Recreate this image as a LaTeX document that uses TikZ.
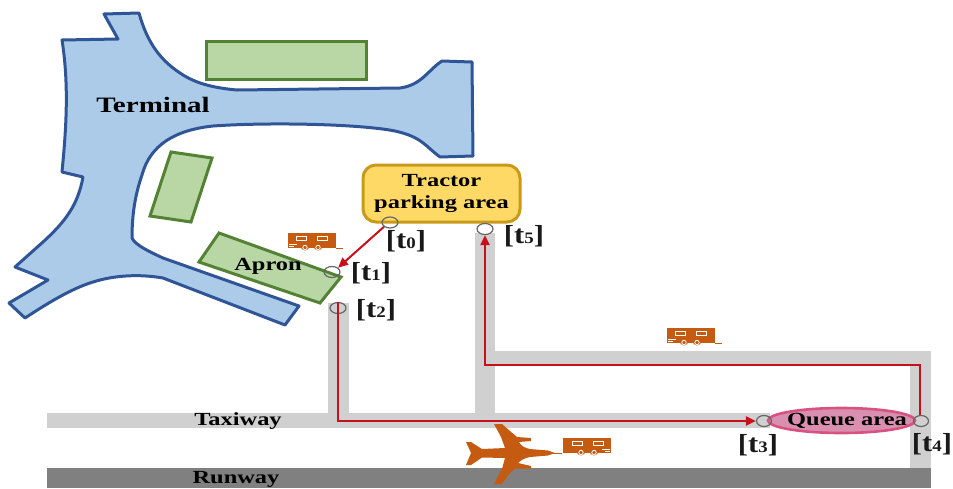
\documentclass[tikz,border=0pt]{standalone}
\usepackage{fontspec}
\usetikzlibrary{arrows.meta,shapes.geometric}
\newfontfamily\lblfont[FakeStretch=1.32]{Liberation Serif Bold}
\newfontfamily\tfont[FakeStretch=1.18]{Liberation Serif Bold}
\definecolor{termfill}{HTML}{ABCBE9}
\definecolor{termline}{HTML}{2F5597}
\definecolor{apfill}{HTML}{B8D7A5}
\definecolor{apline}{HTML}{548235}
\definecolor{roadc}{HTML}{D0D0D0}
\definecolor{runc}{HTML}{808080}
\definecolor{orangec}{HTML}{C55A11}
\definecolor{redc}{HTML}{C8101A}
\definecolor{parkfill}{HTML}{FFD966}
\definecolor{parkline}{HTML}{C99A1A}
\definecolor{qfill}{HTML}{D88FB0}
\definecolor{qline}{HTML}{D9527F}
\newcommand{\lbl}[1]{{\lblfont\fontsize{18.5}{21}\selectfont #1}}
\newcommand{\tl}[1]{{\tfont\fontsize{26}{28}\selectfont[t{\fontsize{16}{17}\selectfont #1}]}}
\tikzset{
  apronbox/.style={draw=apline,fill=apfill,line width=3pt,line join=miter},
  road/.style={fill=roadc,draw=none},
  route/.style={draw=redc,line width=2pt},
  routearrow/.style={route,-{Triangle[length=10pt,width=9pt]}},
  tpoint/.style={ellipse,draw=black!60,line width=1.2pt,minimum width=#1,minimum height=11pt,inner sep=0pt},
  tpoint/.default=15pt,
  tlabel/.style={inner sep=0pt,text=black!90},
  tractorpic/.pic={
    \fill[orangec] (0,0) rectangle (48,15);
    \draw[white,line width=.9pt] (8,3) rectangle (18,7) (29,3) rectangle (39,7);
    \draw[white,line width=.7pt] (1,11) -- (9,11) (1,13) -- (6,13);
    \fill[orangec] (17,13) circle (4.5) (30,13) circle (4.5);
    \draw[white,line width=.8pt] (17,14.5) circle (2.2) (30,14.5) circle (2.2);
  }
}
\begin{document}
\begin{tikzpicture}[x=1pt,y=-1pt]
\useasboundingbox (0,0) rectangle (953,488);
% roads
\fill[road] (47,413) rectangle (770,428);
\fill[road] (328,303) rectangle (349,420);
\fill[road] (475,233) rectangle (495,420);
\fill[road] (475,351) rectangle (931,365);
\fill[road] (910,351) rectangle (931,470);
\fill[runc] (47,468) rectangle (931,488);
% terminal
\draw[draw=termline,fill=termfill,line width=3pt,line join=round]
  (104,14) -- (139,13)
  .. controls (146,38) and (157,58) .. (180,73)
  .. controls (196,84) and (215,88) .. (237,90)
  -- (400,88)
  .. controls (422,85) and (428,70) .. (442,61)
  -- (472,62) -- (473,156) -- (440,157)
  .. controls (425,146) and (422,137) .. (395,131)
  .. controls (360,124) and (270,122) .. (213,126)
  .. controls (175,130) and (150,145) .. (142,175)
  .. controls (135,195) and (132,215) .. (132,238)
  .. controls (135,245) and (150,252) .. (163,258)
  -- (299,306) -- (285,325) -- (163,278)
  .. controls (140,274) and (115,275) .. (93,282)
  .. controls (70,289) and (45,305) .. (25,318)
  -- (9,303) -- (48,280) -- (15,267) -- (43,242)
  .. controls (65,222) and (78,205) .. (83,177)
  -- (62,172)
  .. controls (65,140) and (70,90) .. (62,40)
  -- (118,39) -- cycle;
% aprons
\draw[apronbox] (206,41) rectangle (366,79);
\draw[apronbox] (171,152) -- (212,158) -- (191,222) -- (150,216) -- cycle;
\draw[apronbox] (219,233) -- (341,277) -- (320,303) -- (199,262) -- cycle;
% labels
\node[inner sep=0pt] (terminal) at (153,105) {\lblfont\fontsize{22}{24}\selectfont Terminal};
\node[inner sep=0pt] (apron) at (268,266) {\lbl{Apron}};
\node[inner sep=0pt] (taxiway) at (238,421) {\lbl{Taxiway}};
\node[inner sep=0pt] (runway) at (236,479.5) {\lbl{Runway}};
% parking
\node[draw=parkline,fill=parkfill,line width=3pt,rounded corners=13pt,minimum width=157pt,minimum height=57pt,inner sep=0pt,align=center,font=\lblfont\fontsize{18.5}{22}\selectfont] (park) at (441.5,193.5)
  {Tractor\\parking area};
% queue
\node[ellipse,draw=qline,fill=qfill,line width=2.6pt,minimum width=147pt,minimum height=25pt,inner sep=0pt] (queue) at (841.5,420.5) {};
\node[inner sep=0pt] (queuetext) at (847,420.5) {\lbl{Queue area}};
% event points
\node[tpoint=16pt] (t0) at (390,222.5) {};
\node[tpoint=16pt] (t1) at (332,272) {};
\node[tpoint=16pt] (t2) at (338,308) {};
\node[tpoint=15pt] (t3) at (764,421) {};
\node[tpoint=15pt] (t4) at (921,421) {};
\node[tpoint=16pt,fill=white] (t5) at (485,229) {};
% routes
\coordinate (c2) at (t2.center |- t3.center);
\draw[routearrow] (t0.south west) -- (t1.north east);
\draw[routearrow] (t2.north) -- (c2) -- (t3.west);
\draw[routearrow] (t4.north) ++(-1,0) -- ++(0,-50) -| (t5.south);
% tractors
\pic at (288,233) {tractorpic};
\draw[orangec,line width=.8pt] (336,248) -- (343,248);
\pic at (667,328) {tractorpic};
\draw[orangec,line width=.8pt] (715,343) -- (722,343);
\pic[xscale=-1] at (611,438) {tractorpic};
% plane
\fill[orangec]
  (555,453) -- (548,455.5) -- (530,457)
  .. controls (525,458) and (521,460) .. (518,463)
  -- (531,466) -- (531,468.5) -- (515,468.5) -- (508,475)
  -- (502,484) -- (494,484) -- (502,469) -- (505,458)
  -- (482,457.5) -- (471,465) -- (466,465) -- (471,453) -- (466,442) -- (471,442)
  -- (482,449) -- (505,448) -- (501,437) -- (494,424) -- (502,424) -- (510,431)
  -- (517,437) -- (531,438) -- (531,441) -- (519,442)
  .. controls (521,446) and (525,448) .. (530,449) -- (548,450.5) -- cycle;
\draw[orangec,line width=1pt] (553,453) -- (562,453);
% time labels
\node[tlabel] (lt0) at (406,241) {\tl{0}};
\node[tlabel] (lt1) at (371,273) {\tl{1}};
\node[tlabel] (lt2) at (376,310) {\tl{2}};
\node[tlabel] (lt3) at (758,445) {\tl{3}};
\node[tlabel] (lt4) at (932,444) {\tl{4}};
\node[tlabel] (lt5) at (524,236) {\tl{5}};
\end{tikzpicture}
\end{document}
